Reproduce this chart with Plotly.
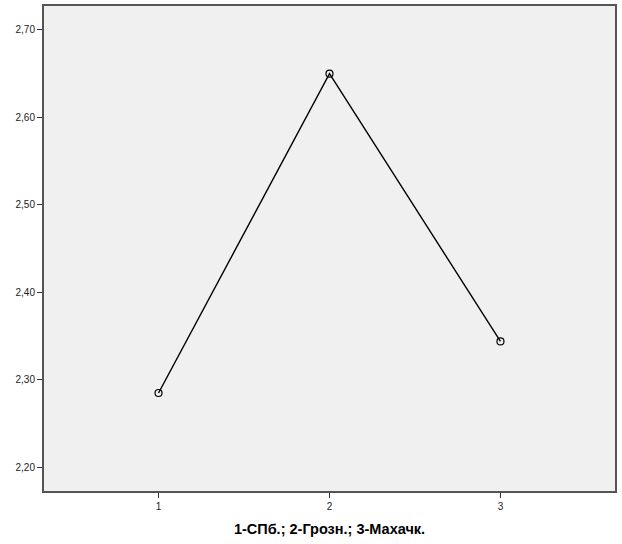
import plotly.graph_objects as go

categories = [1, 2, 3]
values = [2.285, 2.650, 2.344]
y_ticks = [2.20, 2.30, 2.40, 2.50, 2.60, 2.70]
y_tick_labels = ["2,20", "2,30", "2,40", "2,50", "2,60", "2,70"]
x_title = "1-СПб.; 2-Грозн.; 3-Махачк."

fig = go.Figure()
fig.add_trace(go.Scatter(
    x=categories, y=values, mode="lines+markers",
    line=dict(color="#000000", width=1.4),
    marker=dict(symbol="circle-open", size=7, color="#000000", line=dict(width=1.2)),
    showlegend=False,
))

fig.update_layout(
    width=622, height=544,
    margin=dict(l=44, r=7, t=6, b=53),
    paper_bgcolor="white",
    plot_bgcolor="#f0f0f0",
    font=dict(family="Arial, Liberation Sans, sans-serif", size=11, color="#222222"),
    xaxis=dict(
        range=[0.33, 3.67], tickvals=categories, ticktext=[str(c) for c in categories],
        ticks="outside", ticklen=5, tickcolor="#333333", tickwidth=1,
        showgrid=False, zeroline=False, automargin=False,
        showline=True, linecolor="#555555", linewidth=2, mirror=True,
        tickfont=dict(size=10),
        title=dict(text="<b>" + x_title + "</b>", font=dict(size=14.5, color="#000000"), standoff=13),
    ),
    yaxis=dict(
        range=[2.173, 2.7274], tickvals=y_ticks, ticktext=y_tick_labels,
        ticks="outside", ticklen=5, tickcolor="#333333", tickwidth=1,
        showgrid=False, zeroline=False, automargin=False,
        showline=True, linecolor="#555555", linewidth=2, mirror=True,
        tickfont=dict(size=10),
    ),
)

fig.write_html("out.html", config={"displayModeBar": False},
               post_script="document.body.style.margin='0';")
